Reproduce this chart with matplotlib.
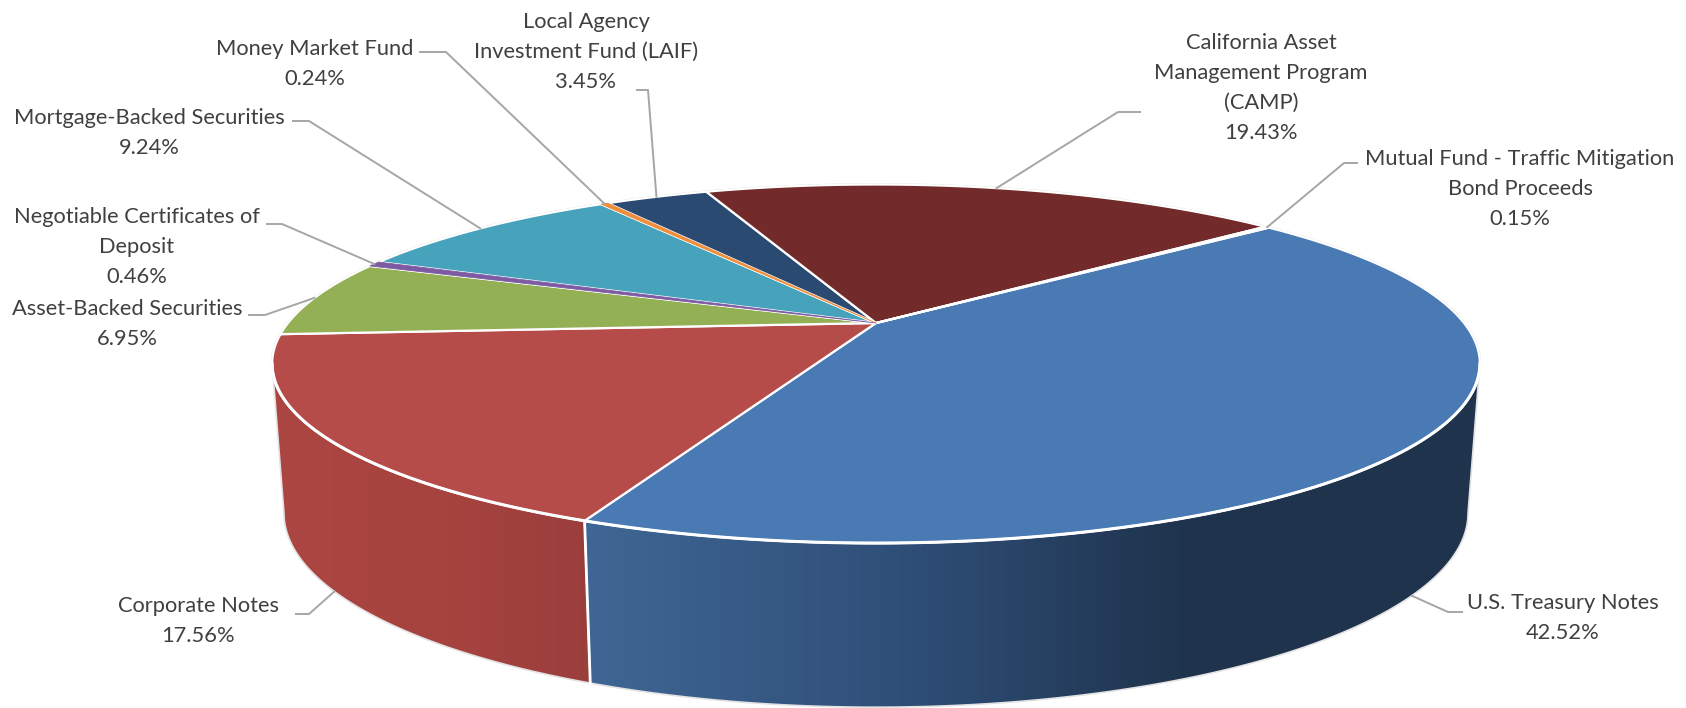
import numpy as np
import matplotlib
matplotlib.use("Agg")
import matplotlib.pyplot as plt
from matplotlib.colors import to_rgb
from matplotlib.patches import Polygon

# slices, clockwise from the first slice angle
labels = ["U.S. Treasury Notes", "Corporate Notes", "Asset-Backed Securities",
          "Negotiable Certificates of\nDeposit", "Mortgage-Backed Securities",
          "Money Market Fund", "Local Agency\nInvestment Fund (LAIF)",
          "California Asset\nManagement Program\n(CAMP)",
          "Mutual Fund - Traffic Mitigation\nBond Proceeds"]
values = [42.52, 17.56, 6.95, 0.46, 9.24, 0.24, 3.45, 19.43, 0.15]
colors = ["#4a7ab4", "#b64c49", "#94b055", "#7d5ba3", "#47a2bc",
          "#ee8d3c", "#2a4a72", "#722a2a", "#c4bd97"]

# label centre and leader elbow/end, in pixels
label_pos = [(1563, 618), (198, 621), (127, 324), (137, 247), (149, 133),
             (315, 64), (586, 52), (1261, 88), (1520, 189)]
leader_start = [(1462, 612), (296, 614), (249, 315), (267, 224), (293, 121),
                (420, 52), (637, 90), (1140, 112), (1357, 163)]
leader_elbow = [(1448, 612), (309, 614), (265, 315), (282, 224), (309, 121),
                (446, 52), (648, 90), (1118, 112), (1344, 163)]

first_angle = 50
persp = 0.2275
top_plate = (876, 323, 588, 170)
bottom_plate = (876, 469, 576.5, 184)


def project(theta, plate):
    cx, cy, a, b = plate
    u = np.sin(np.radians(theta))
    v = np.cos(np.radians(theta))
    w = 1 + persp * v
    return cx + a * u / w, cy - b * v / w


def arc(t0, t1, plate):
    t = np.linspace(t0, t1, max(int(abs(t1 - t0) * 4), 3))
    x, y = project(t, plate)
    return np.column_stack([x, y])


def wall(t0, t1, stops, ax):
    pts = np.vstack([arc(t0, t1, top_plate), arc(t1, t0, bottom_plate)])
    xs = np.arange(int(pts[:, 0].min()) - 2, int(pts[:, 0].max()) + 3)
    sx, sc = zip(*stops)
    rgb = np.array([to_rgb(c) for c in sc])
    grad = np.stack([np.interp(xs, sx, rgb[:, i]) for i in range(3)], axis=-1)[None, :, :]
    poly = Polygon(pts, closed=True, fc="none", ec="#e2e2e2", lw=1.2, zorder=2)
    ax.add_patch(poly)
    im = ax.imshow(grad, extent=(xs[0], xs[-1], pts[:, 1].max() + 2, pts[:, 1].min() - 2),
                   aspect="auto", zorder=1, interpolation="bilinear")
    im.set_clip_path(poly)


fig = plt.figure(figsize=(16.86, 7.08), dpi=100)
ax = fig.add_axes([0, 0, 1, 1])

edges = first_angle + np.concatenate([[0], np.cumsum(values)]) * 3.6

# side walls, only the part facing the viewer
hidden_r = np.degrees(np.arccos(-persp))
wall(hidden_r, edges[1], [(592, "#3f6694"), (900, "#2f4f78"), (1180, "#1f344e"), (1480, "#1f334c")], ax)
wall(edges[1], 360 - hidden_r, [(272, "#ac4642"), (450, "#a6433f"), (592, "#9a3e3c")], ax)
x0, y0 = project(edges[1], top_plate)
x1, y1 = project(edges[1], bottom_plate)
ax.plot([x0, x1], [y0, y1], color="white", lw=2, zorder=3)

# light rim behind the top face
rim = arc(0, 360, top_plate)
ax.add_patch(Polygon(rim, closed=True, fc="none", ec="#dcdcdc", lw=1.8, zorder=3))

# top face
centre = np.array([[top_plate[0], top_plate[1]]])
for i, c in enumerate(colors):
    pts = np.vstack([centre, arc(edges[i], edges[i + 1], top_plate)])
    ax.add_patch(Polygon(pts, closed=True, fc=c, ec="white", lw=1.6, joinstyle="round", zorder=4))
# the slivers would vanish under the white outlines of their neighbours
for i, c in enumerate(colors):
    if 0.2 < values[i] < 0.5:
        pts = np.vstack([centre, arc(edges[i], edges[i + 1], top_plate)])
        ax.add_patch(Polygon(pts, closed=True, fc=c, ec=c, lw=0.6, joinstyle="round", zorder=4.2))
front = arc(hidden_r, 360 - hidden_r, top_plate)
ax.plot(front[:, 0], front[:, 1], color="white", lw=2.2, zorder=4.5)

# data labels and leader lines
for i, name in enumerate(labels):
    mid = (edges[i] + edges[i + 1]) / 2
    if i < 2:
        # these two leaders land on the outer wall
        end = project(mid, bottom_plate)
    else:
        end = project(mid, top_plate)
    ax.plot([leader_start[i][0], leader_elbow[i][0], end[0]],
            [leader_start[i][1], leader_elbow[i][1], end[1]],
            color="#a6a6a6", lw=1.4, zorder=5)
    ax.text(label_pos[i][0], label_pos[i][1], f"{name}\n{values[i]:.2f}%", ha="center", va="center",
            multialignment="center", fontsize=15.75, family="Lato", color="#404040",
            linespacing=1.62, zorder=6)

ax.set_xlim(0, 1686)
ax.set_ylim(708, 0)
ax.axis("off")
fig.savefig("out.png", dpi=100, facecolor="white")
